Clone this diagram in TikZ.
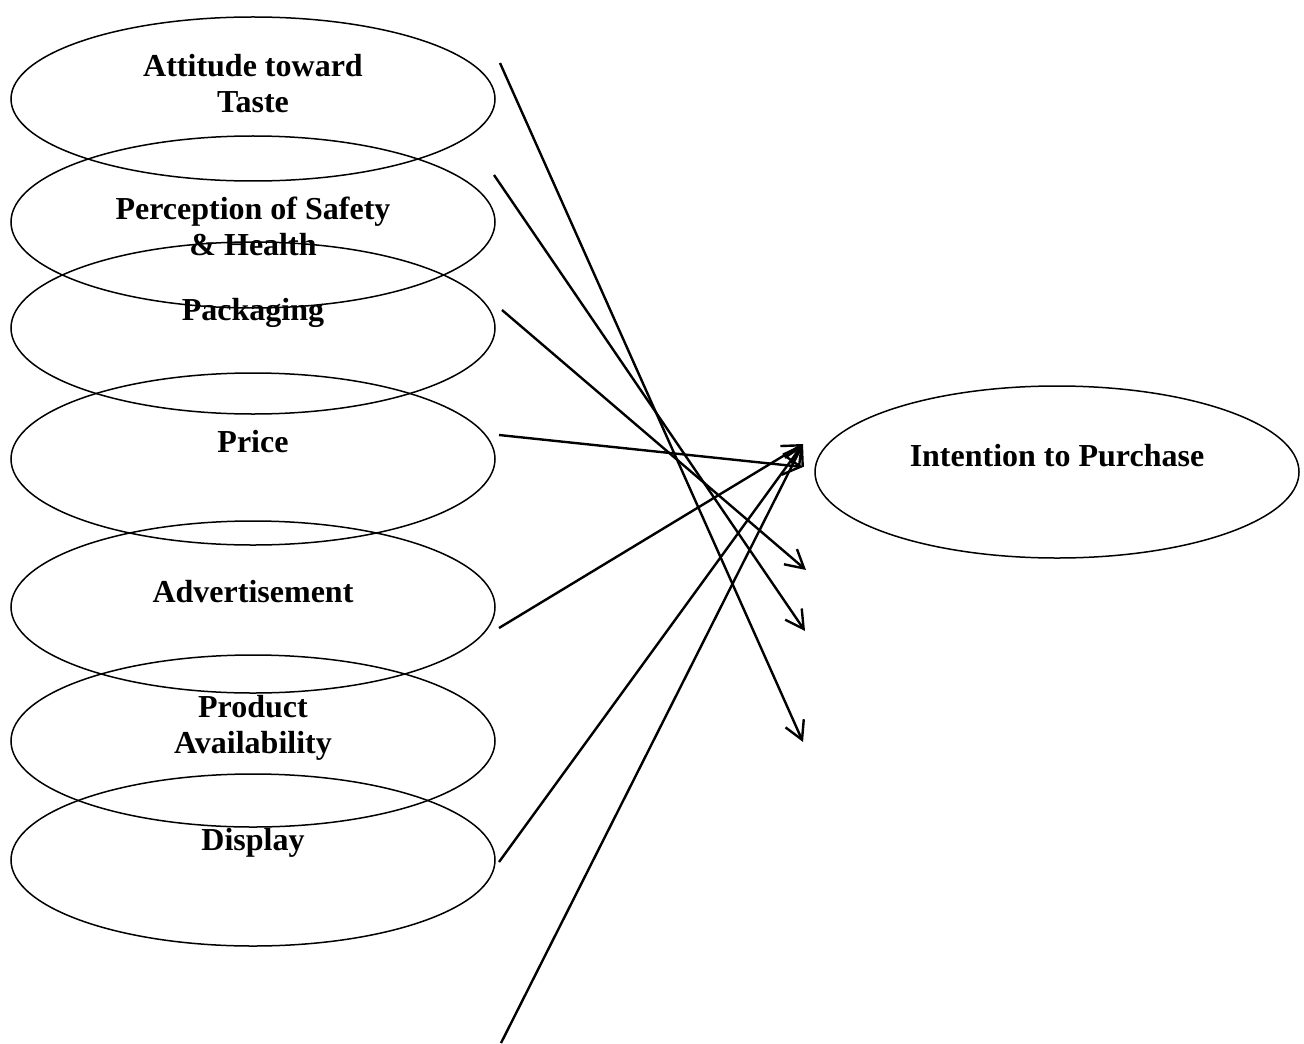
\documentclass[tikz,border=0pt]{standalone}
\usepackage{fontspec}
\setmainfont{Liberation Serif}
\usetikzlibrary{shapes.geometric,arrows.meta}

\begin{document}
\begin{tikzpicture}
[x=0.5pt, y=-0.5pt,
factor/.style={ellipse, draw=black, line width=0.75pt, minimum width=242pt, minimum height=86pt, inner sep=0pt},
txt/.style={font=\bfseries\fontsize{16}{18}\selectfont, align=center},
link/.style={line width=1.2pt, -{Straight Barb[length=9pt, width=10pt]}}]

\useasboundingbox (0,0) rectangle (1304,1043);

%Nodes
\node[factor, minimum height=82pt] (taste) at (253,99) {};
\node[factor, below of=taste, node distance=61.5pt] (safety) {};
\node[factor, below of=safety, node distance=53pt] (packaging) {};
\node[factor, below of=packaging, node distance=65.5pt] (price) {};
\node[factor, below of=price, node distance=74pt] (advert) {};
\node[factor, below of=advert, node distance=67pt] (avail) {};
\node[factor, below of=avail, node distance=59.5pt] (display) {};
\node[factor, right of=price, node distance=402pt, yshift=-6.5pt] (intention) {};

%Texts
\node[txt, yshift=7.5pt] (tasteT) at (taste) {Attitude toward\\Taste};
\node[txt, yshift=-2pt] (safetyT) at (safety) {Perception of Safety\\\& Health};
\node[txt, yshift=7.5pt] (packagingT) at (packaging) {Packaging};
\node[txt, yshift=8.5pt] (priceT) at (price) {Price};
\node[txt, yshift=7.5pt] (advertT) at (advert) {Advertisement};
\node[txt, yshift=6.5pt] (availT) at (avail) {Product\\Availability};
\node[txt, yshift=8.5pt] (displayT) at (display) {Display};
\node[txt, yshift=8pt] (intentionT) at (intention) {Intention to Purchase};

%Ends
\coordinate (tasteOut) at (500,63);
\coordinate (safetyOut) at (494,175);
\coordinate (packagingOut) at (502,310);
\coordinate (priceOut) at (499,435);
\coordinate (advertOut) at (499,628);
\coordinate (displayOut) at (499,862);
\coordinate (bottomOut) at (501,1043);
\coordinate (hub) at (803,444);
\coordinate (priceIn) at (803,467);
\coordinate (looseA) at (806,570);
\coordinate (looseB) at (805,631);
\coordinate (looseC) at (803,742);

%Lines
\draw[link] (tasteOut) -- (looseC);
\draw[link] (safetyOut) -- (looseB);
\draw[link] (packagingOut) -- (looseA);
\draw[link] (priceOut) -- (priceIn);
\draw[link] (advertOut) -- (hub);
\draw[link] (displayOut) -- (hub);
\draw[link] (bottomOut) -- (hub);

\end{tikzpicture}
\end{document}
